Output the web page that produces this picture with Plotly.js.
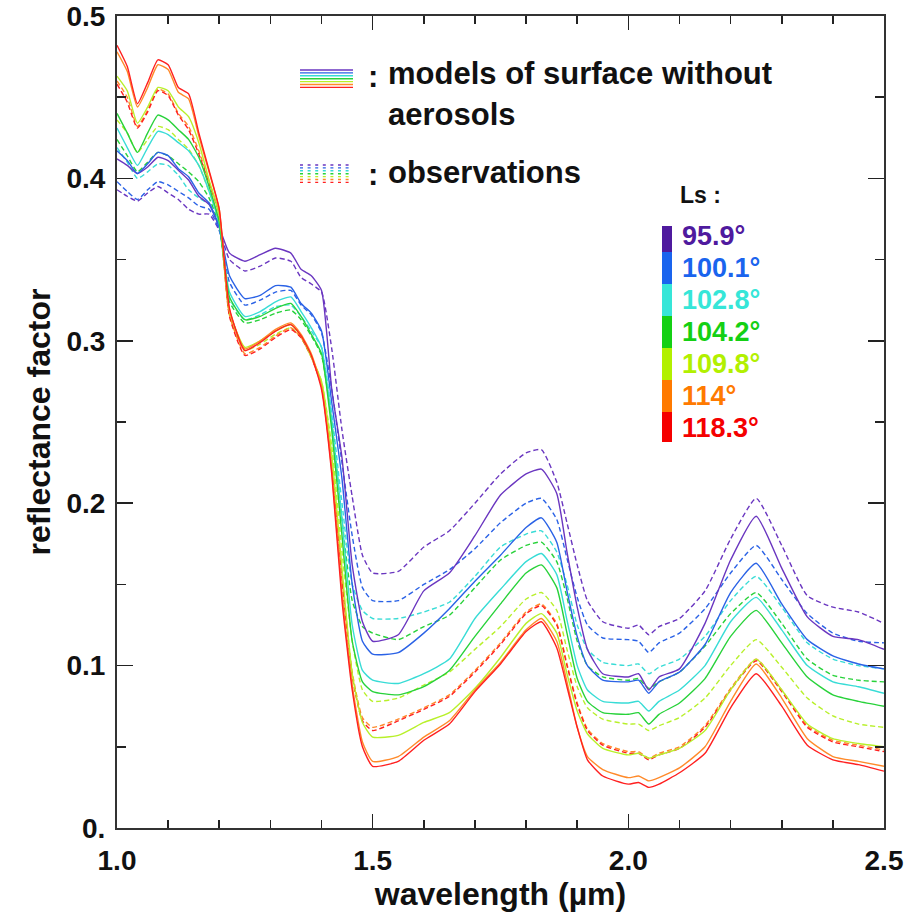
<!DOCTYPE html>
<html>
<head>
<meta charset="utf-8">
<script src="https://cdn.plot.ly/plotly-3.0.1.min.js"></script>
<style>html,body{margin:0;padding:0;background:#fff;}#chart{width:904px;height:913px;}</style>
</head>
<body>
<div id="chart"></div>
<script>
// ---------------- DATA ----------------
const wavelength = [1.00,1.02,1.04,1.06,1.08,1.10,1.12,1.14,1.16,1.18,1.20,1.22,1.25,1.28,1.31,1.34,1.36,1.38,1.40,1.42,1.44,1.46,1.48,1.50,1.55,1.60,1.65,1.70,1.75,1.80,1.83,1.86,1.88,1.90,1.92,1.95,2.00,2.02,2.04,2.06,2.10,2.15,2.20,2.25,2.30,2.35,2.40,2.45,2.50];

const lsLabels = ['95.9°','100.1°','102.8°','104.2°','109.8°','114°','118.3°'];

// models of surface without aerosols (solid)
const model959  = [.412,.408,.403,.407,.413,.411,.405,.399,.389,.384,.370,.354,.349,.353,.357,.354,.344,.340,.331,.270,.228,.162,.127,.115,.119,.146,.157,.180,.205,.218,.221,.206,.170,.136,.110,.095,.093,.095,.085,.093,.098,.126,.165,.192,.160,.130,.118,.116,.110];
const model1001 = [.417,.411,.403,.409,.416,.414,.406,.401,.391,.385,.370,.340,.326,.328,.334,.333,.323,.317,.306,.262,.215,.150,.115,.107,.108,.120,.135,.152,.168,.185,.191,.176,.146,.118,.100,.091,.090,.091,.083,.090,.096,.113,.145,.163,.138,.116,.106,.101,.098];
const model1028 = [.431,.419,.408,.419,.429,.427,.422,.417,.408,.392,.372,.330,.315,.318,.324,.327,.318,.308,.296,.250,.190,.125,.097,.091,.089,.095,.104,.129,.147,.164,.169,.156,.128,.100,.085,.078,.077,.078,.072,.078,.085,.100,.127,.142,.122,.100,.090,.087,.083];
const model1042 = [.440,.428,.416,.428,.439,.436,.430,.424,.413,.395,.373,.327,.313,.315,.320,.323,.315,.304,.292,.245,.180,.115,.090,.084,.082,.087,.097,.118,.138,.157,.162,.148,.120,.092,.078,.071,.070,.071,.064,.070,.077,.092,.118,.134,.114,.093,.082,.078,.075];
const model1098 = [.463,.454,.434,.444,.456,.454,.444,.438,.422,.399,.378,.318,.296,.300,.306,.310,.303,.290,.275,.230,.160,.095,.065,.056,.057,.065,.071,.086,.105,.126,.132,.120,.095,.072,.058,.049,.045,.046,.043,.045,.049,.060,.085,.104,.085,.064,.055,.052,.050];
const model114  = [.478,.466,.444,.456,.470,.467,.453,.449,.426,.404,.381,.319,.295,.300,.307,.311,.304,.292,.272,.220,.145,.088,.053,.041,.044,.056,.066,.085,.102,.122,.129,.115,.090,.062,.044,.036,.031,.032,.029,.031,.037,.050,.078,.101,.080,.055,.044,.041,.038];
const model1183 = [.482,.469,.446,.459,.473,.470,.456,.452,.428,.405,.381,.320,.294,.299,.306,.310,.303,.291,.270,.218,.140,.085,.050,.038,.041,.054,.064,.084,.101,.121,.127,.111,.087,.062,.042,.032,.027,.028,.025,.027,.034,.046,.074,.095,.075,.051,.042,.039,.035];

// observations (dashed)
const obs959  = [.393,.389,.386,.391,.395,.391,.387,.381,.378,.378,.368,.350,.343,.346,.351,.349,.339,.335,.330,.295,.245,.204,.168,.157,.158,.173,.183,.200,.218,.231,.233,.213,.188,.162,.140,.127,.123,.125,.119,.124,.129,.146,.178,.203,.174,.143,.136,.133,.126];
const obs1001 = [.398,.392,.387,.393,.398,.396,.392,.388,.383,.381,.368,.336,.322,.325,.330,.331,.322,.316,.305,.270,.225,.180,.148,.140,.140,.150,.159,.172,.188,.200,.203,.190,.166,.142,.125,.117,.116,.115,.108,.114,.120,.135,.157,.174,.153,.132,.120,.115,.114];
const obs1028 = [.419,.410,.400,.404,.409,.408,.402,.393,.388,.384,.370,.326,.313,.316,.321,.322,.315,.306,.296,.255,.200,.150,.134,.129,.129,.133,.139,.155,.173,.181,.183,.170,.150,.125,.110,.102,.100,.101,.095,.099,.104,.118,.140,.155,.136,.114,.104,.100,.098];
const obs1042 = [.424,.414,.404,.410,.416,.414,.409,.404,.398,.388,.371,.324,.311,.313,.317,.319,.313,.303,.291,.250,.190,.140,.124,.120,.116,.124,.131,.148,.165,.174,.176,.164,.142,.115,.100,.093,.091,.092,.086,.090,.096,.112,.132,.145,.126,.104,.094,.091,.090];
const obs1098 = [.436,.428,.416,.424,.432,.430,.424,.418,.408,.392,.375,.316,.294,.298,.304,.308,.302,.290,.275,.235,.170,.115,.085,.078,.080,.088,.096,.110,.124,.141,.145,.134,.110,.087,.074,.067,.064,.064,.060,.063,.068,.080,.100,.116,.099,.080,.069,.064,.062];
const obs114  = [.460,.450,.432,.442,.455,.452,.440,.432,.417,.398,.378,.316,.292,.296,.303,.308,.302,.290,.272,.225,.155,.096,.068,.062,.067,.074,.082,.097,.114,.133,.138,.126,.101,.077,.061,.052,.047,.047,.043,.046,.050,.063,.086,.104,.085,.063,.054,.051,.048];
const obs1183 = [.458,.447,.431,.441,.454,.451,.439,.430,.415,.397,.378,.315,.291,.295,.302,.307,.302,.290,.272,.222,.152,.093,.066,.060,.066,.073,.081,.096,.113,.132,.137,.125,.100,.076,.060,.051,.046,.046,.042,.045,.049,.062,.085,.103,.084,.062,.053,.050,.047];

const xTickVals = [1.0,1.5,2.0,2.5];
const xTickText = ['1.0','1.5','2.0','2.5'];
const yTickVals = [0,0.1,0.2,0.3,0.4,0.5];
const yTickText = ['0.','0.1','0.2','0.3','0.4','0.5'];

// ---------------- STYLE ----------------
const models = [model959,model1001,model1028,model1042,model1098,model114,model1183];
const observations = [obs959,obs1001,obs1028,obs1042,obs1098,obs114,obs1183];
const lineColors = ['#6a36c0','#2a62e6','#38dcd6','#28d23a','#b8f02a','#ff8a2a','#ff2020'];
const barColors  = ['#4f1a9e','#1a64ee','#36e6d8','#14d014','#b2f000','#ff7a00','#f50000'];

const traces = [];
observations.forEach((ys,i)=>{
  traces.push({x:wavelength,y:ys,type:'scatter',mode:'lines',hoverinfo:'skip',
    line:{color:lineColors[i],width:1.4,dash:'5px,3px',shape:'spline',smoothing:0.5}});
});
models.forEach((ys,i)=>{
  traces.push({x:wavelength,y:ys,type:'scatter',mode:'lines',hoverinfo:'skip',
    line:{color:lineColors[i],width:1.4,shape:'spline',smoothing:0.5}});
});

// pixel helpers for decorations (plot area 117..884 x 16..828)
const PL=117, PR=884, PT=16, PB=828;
const px = v => (v-PL)/(PR-PL);
const py = v => (PB-v)/(PB-PT);

const shapes = [];
const annotations = [];
const black = '#111';
const fontTick = {family:'"Liberation Sans", Arial, sans-serif', size:28, color:black, weight:'bold'};
const fontTitle = {family:'"Liberation Sans", Arial, sans-serif', size:32, color:black, weight:'bold'};
const fontLeg = {family:'"Liberation Sans", Arial, sans-serif', size:31, color:black, weight:'bold'};

// legend samples
lineColors.forEach((c,i)=>{
  const y1 = 70 + i*2.9;
  shapes.push({type:'line',xref:'paper',yref:'paper',x0:px(300),x1:px(353),y0:py(y1),y1:py(y1),line:{color:c,width:1.4}});
  const y2 = 165 + i*2.9;
  shapes.push({type:'line',xref:'paper',yref:'paper',x0:px(300),x1:px(353),y0:py(y2),y1:py(y2),line:{color:c,width:1.4,dash:'3px,4.6px'}});
});
annotations.push({xref:'paper',yref:'paper',x:px(366),y:py(76),xanchor:'left',yanchor:'middle',text:':',showarrow:false,font:fontLeg});
annotations.push({xref:'paper',yref:'paper',x:px(386),y:py(74),xanchor:'left',yanchor:'middle',text:'models of surface without',showarrow:false,font:fontLeg});
annotations.push({xref:'paper',yref:'paper',x:px(386),y:py(114),xanchor:'left',yanchor:'middle',text:'aerosols',showarrow:false,font:fontLeg});
annotations.push({xref:'paper',yref:'paper',x:px(366),y:py(174),xanchor:'left',yanchor:'middle',text:':',showarrow:false,font:fontLeg});
annotations.push({xref:'paper',yref:'paper',x:px(386),y:py(172),xanchor:'left',yanchor:'middle',text:'observations',showarrow:false,font:fontLeg});

// Ls colour key
annotations.push({xref:'paper',yref:'paper',x:px(678),y:py(195),xanchor:'left',yanchor:'middle',text:'Ls :',showarrow:false,
  font:{family:'"Liberation Sans", Arial, sans-serif',size:23,color:black,weight:'bold'}});
const bounds = [226,252,284,316,348,380,412,442];
barColors.forEach((c,i)=>{
  shapes.push({type:'rect',xref:'paper',yref:'paper',x0:px(662),x1:px(672),y0:py(bounds[i+1]),y1:py(bounds[i]),fillcolor:c,line:{width:0}});
  annotations.push({xref:'paper',yref:'paper',x:px(680),y:py(236+32*i),xanchor:'left',yanchor:'middle',text:lsLabels[i],showarrow:false,
    font:{family:'"Liberation Sans", Arial, sans-serif',size:27,color:c,weight:'bold'}});
});

const axisCommon = {showline:true,linecolor:'#333',linewidth:2,mirror:'ticks',showgrid:false,zeroline:false,
  ticks:'inside',tickcolor:'#222',tickwidth:1.6,tickfont:fontTick};

const layout = {
  width:904,height:913,
  margin:{l:PL,r:904-PR,t:PT,b:913-PB,pad:0},
  paper_bgcolor:'#fff',plot_bgcolor:'#fff',showlegend:false,
  xaxis:Object.assign({},axisCommon,{range:[1,2.5],tickmode:'array',tickvals:xTickVals,ticktext:xTickText,ticklen:14,
    ticklabelstandoff:6,
    minor:{tickmode:'linear',tick0:1,dtick:0.1,ticks:'inside',ticklen:8,tickwidth:1.6,tickcolor:'#222'},
    title:{text:'wavelength (µm)',font:fontTitle,standoff:8}}),
  yaxis:Object.assign({},axisCommon,{range:[0,0.5],tickmode:'array',tickvals:yTickVals,ticktext:yTickText,ticklen:16,
    ticklabelstandoff:4,
    minor:{tickmode:'linear',tick0:0,dtick:0.05,ticks:'inside',ticklen:9,tickwidth:1.6,tickcolor:'#222'},
    title:{text:'reflectance factor',font:fontTitle,standoff:6}}),
  shapes:shapes,annotations:annotations
};

Plotly.newPlot('chart',traces,layout,{displayModeBar:false,staticPlot:true});
</script>
</body>
</html>
